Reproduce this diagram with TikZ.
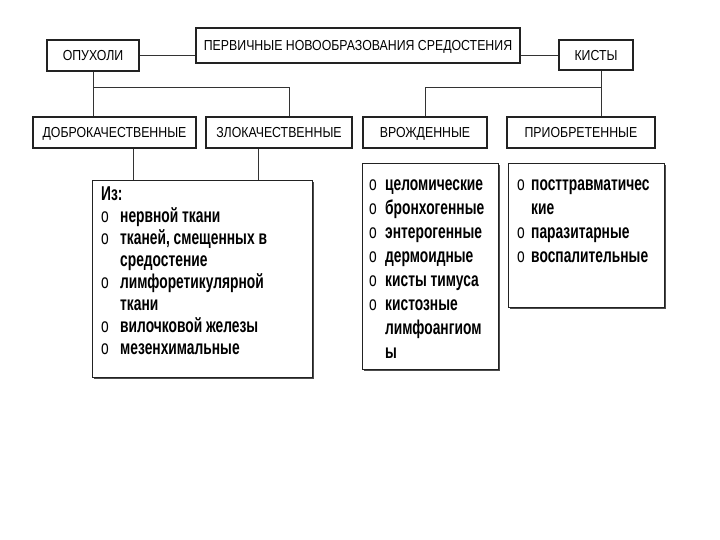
\documentclass[tikz,border=0pt]{standalone}
\usepackage{fontspec}
\setmainfont{Liberation Sans}
\newfontfamily\hdrfont[FakeStretch=0.85]{Liberation Sans}
\newfontfamily\lstfont[FakeStretch=0.69]{Liberation Sans}
\usepackage{tikz}
\usetikzlibrary{positioning, calc, shadows}
\definecolor{edge}{HTML}{222222}
\definecolor{wire}{HTML}{333333}
\tikzset{
  hdr/.style={rectangle, draw=edge, fill=white, line width=1.1pt, inner sep=0pt, text height=10.4pt, text depth=0pt,
    font=\hdrfont\fontsize{14.5}{16}\selectfont,
    drop shadow={shadow xshift=1.2pt, shadow yshift=-1.2pt, fill=black!70, opacity=1}},
  lstbox/.style={rectangle, draw=edge, fill=white, line width=1.1pt, anchor=north west, inner sep=0pt,
    drop shadow={shadow xshift=1.2pt, shadow yshift=-1.2pt, fill=black!70, opacity=1}},
  lsttext/.style={anchor=north west, align=left, inner sep=0pt, font=\lstfont\bfseries\fontsize{20}{22}\selectfont},
  widetext/.style={lsttext, font=\lstfont\bfseries\fontsize{20}{24}\selectfont},
  wirel/.style={draw=wire, line width=0.9pt},
}
\newcommand{\itm}[1]{\makebox[#1][l]{\mdseries o}}
\begin{document}
\begin{tikzpicture}[x=1pt, y={(0pt,-1pt)}]
  \useasboundingbox (0,0) rectangle (720,540);
  \node[hdr, minimum width=324, minimum height=35] (title) at (358,45.5) {ПЕРВИЧНЫЕ НОВООБРАЗОВАНИЯ СРЕДОСТЕНИЯ};
  \node[hdr, minimum width=92, minimum height=31] (tumors) at (93,55.5) {ОПУХОЛИ};
  \node[hdr, minimum width=74, minimum height=30] (cysts) at (596,55) {КИСТЫ};
  \node[hdr, minimum width=163, minimum height=31] (benign) at (114.5,132.5) {ДОБРОКАЧЕСТВЕННЫЕ};
  \node[hdr, minimum width=146, minimum height=31] (malign) at (279,132.5) {ЗЛОКАЧЕСТВЕННЫЕ};
  \node[hdr, minimum width=124, minimum height=31] (congen) at (425,132.5) {ВРОЖДЕННЫЕ};
  \node[hdr, minimum width=148, minimum height=31] (acquir) at (581,132.5) {ПРИОБРЕТЕННЫЕ};

  \node[lstbox, minimum width=220, minimum height=197] (tumorlist) at (92,180) {};
  \node[lstbox, minimum width=136, minimum height=206] (congenlist) at (362,163) {};
  \node[lstbox, minimum width=156, minimum height=144] (acquirlist) at (508,163) {};

  \node[lsttext] (tumortxt) at (101,187) {Из:\\
    \itm{19pt}нервной ткани\\
    \itm{19pt}тканей, смещенных в\\
    \hspace*{19pt}средостение\\
    \itm{19pt}лимфоретикулярной\\
    \hspace*{19pt}ткани\\
    \itm{19pt}вилочковой железы\\
    \itm{19pt}мезенхимальные};
  \node[widetext] (congentxt) at (369,180) {\itm{16pt}целомические\\
    \itm{16pt}бронхогенные\\
    \itm{16pt}энтерогенные\\
    \itm{16pt}дермоидные\\
    \itm{16pt}кисты тимуса\\
    \itm{16pt}кистозные\\
    \hspace*{16pt}лимфоангиом\\
    \hspace*{16pt}ы};
  \node[widetext] (acquirtxt) at (517,180) {\itm{14pt}посттравматичес\\
    \hspace*{14pt}кие\\
    \itm{14pt}паразитарные\\
    \itm{14pt}воспалительные};

  \draw[wirel] (tumors.east) -- (tumors.east -| title.west);
  \draw[wirel] (cysts.west -| title.east) -- (cysts.west);
  \draw[wirel] (tumors.south) -- (tumors.south |- 0,87) -| ([xshift=10pt]malign.north);
  \draw[wirel] (tumors.south |- 0,87) -- (tumors.south |- benign.north);
  \draw[wirel] ([xshift=5pt]cysts.south) -- ([xshift=5pt]cysts.south |- 0,87) -| (congen.north);
  \draw[wirel] ([xshift=5pt]cysts.south |- 0,87) -- ([xshift=5pt]cysts.south |- acquir.north);
  \draw[wirel] ([xshift=19pt]benign.south) -- ([xshift=19pt]benign.south |- tumorlist.north);
  \draw[wirel] ([xshift=-21pt]malign.south) -- ([xshift=-21pt]malign.south |- tumorlist.north);
\end{tikzpicture}
\end{document}
